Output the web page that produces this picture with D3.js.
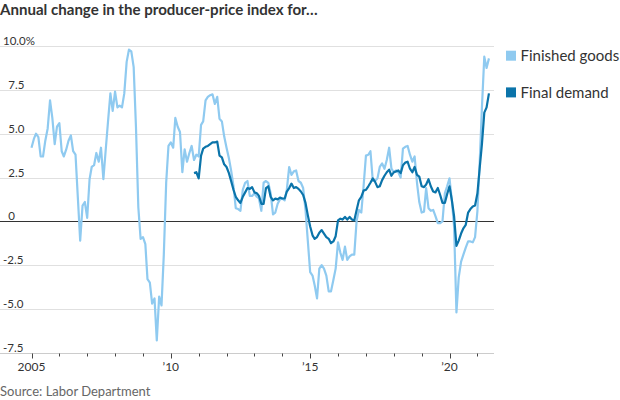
<!DOCTYPE html>
<html><head><meta charset="utf-8">
<script src="https://cdn.jsdelivr.net/npm/d3@7"></script>
<style>
html,body{margin:0;padding:0;background:#fff;}
svg{display:block;font-family:Lato,"Noto Sans",sans-serif;}
</style></head>
<body><svg id="c" width="620" height="400"></svg>
<script>
const titleText = "Annual change in the producer-price index for…";
const sourceText = "Source: Labor Department";
const seriesNames = ["Finished goods", "Final demand"];
const seriesColors = ["#8fcaf0", "#0b74aa"];
const yTicks = [-7.5, -5, -2.5, 0, 2.5, 5, 7.5, 10];
const yTickLabels = ["-7.5", "-5.0", "-2.5", "0", "2.5", "5.0", "7.5", "10.0%"];
const xTickYears = [2005, 2010, 2015, 2020];
const xTickLabels = ["2005", "’10", "’15", "’20"];
const finishedStart = [2005, 0];   // Jan 2005, monthly
const finishedGoods = [
 4.2,4.7,5.0,4.8,3.7,3.7,4.6,5.3,6.9,5.9,4.4,5.4,
 5.6,4.0,3.7,4.1,4.6,4.9,4.0,3.8,1.3,-1.1,0.9,1.1,
 0.2,2.4,3.1,3.2,3.9,3.4,4.2,2.4,4.1,5.7,7.3,6.3,
 7.4,6.5,6.6,6.5,7.3,9.1,9.8,9.7,8.8,5.4,0.8,-1.0,
 -0.9,-1.3,-3.3,-3.5,-4.7,-4.4,-6.8,-4.3,-4.8,-1.9,2.2,4.3,
 4.5,4.2,5.9,5.4,5.1,2.8,4.1,3.4,3.9,4.3,3.5,3.8,
 3.7,5.5,5.7,6.9,7.1,7.2,7.25,6.7,7.1,5.85,5.7,4.85,
 4.2,3.6,2.9,2.0,0.75,0.7,0.6,1.8,2.2,2.3,1.45,1.45,
 1.6,1.4,1.3,0.6,2.2,2.3,2.2,1.6,0.4,0.5,1.0,1.25,
 1.3,1.2,1.8,3.1,2.65,2.85,2.9,2.3,2.2,1.9,0.65,-1.1,
 -2.9,-3.1,-3.65,-4.4,-2.7,-2.5,-2.7,-3.1,-4.0,-4.0,-3.35,-2.7,
 -1.2,-1.8,-2.2,-1.45,-2.2,-2.0,-1.9,-1.9,0.05,0.65,0.5,2.0,
 3.75,3.8,4.0,2.3,2.3,2.45,3.1,3.3,3.0,3.5,4.2,3.0,
 2.8,2.9,2.8,2.5,4.15,4.25,4.3,3.8,3.4,3.7,2.2,1.1,
 0.5,0.55,1.9,0.75,0.6,0.65,0.3,-0.1,-0.1,0.0,1.6,2.0,
 2.45,1.2,-0.3,-5.2,-3.2,-2.3,-1.9,-1.5,-1.15,-1.15,-1.2,-0.9,
 0.6,3.5,6.5,9.4,8.75,9.3
];
const demandStart = [2010, 10];    // Nov 2010, monthly
const finalDemand = [
 2.75,2.8,
 2.45,3.75,4.15,4.25,4.3,4.4,4.5,4.5,4.55,3.75,3.65,3.25,
 3.1,2.75,2.3,1.8,1.4,1.2,1.05,1.4,1.65,1.9,1.85,1.95,
 1.65,1.6,1.45,1.0,1.0,1.9,2.0,1.4,1.2,1.3,1.25,1.35,
 1.3,1.3,1.7,1.9,2.15,1.9,1.95,1.85,1.7,1.5,1.05,0.35,
 -0.3,-0.8,-1.0,-0.9,-0.65,-0.5,-0.7,-0.9,-1.0,-1.25,-1.15,-0.85,
 0.05,0.15,0.1,0.25,0.1,0.25,0.1,0.05,0.65,1.2,1.4,1.75,
 1.8,2.0,2.2,2.45,2.25,1.95,2.0,2.35,2.6,2.8,2.95,2.6,
 2.8,2.85,2.9,2.75,3.2,3.35,3.4,3.0,2.8,3.1,2.65,2.55,
 2.0,1.95,2.1,2.4,2.0,1.7,1.65,1.9,1.5,1.05,1.05,1.55,
 2.0,1.2,0.3,-1.4,-1.1,-0.7,-0.4,-0.2,0.5,0.7,0.85,0.9,
 1.6,3.1,4.4,6.2,6.5,7.3
];

const toSeries = (start, vals) => vals.map((v, i) => ({date: new Date(start[0], start[1] + i, 1), value: v}));
const dataF = toSeries(finishedStart, finishedGoods);
const dataD = toSeries(demandStart, finalDemand);

const svg = d3.select("#c");
const plotLeft = 0, plotRight = 494;
const x = d3.scaleTime().domain([new Date(2005,0,1), new Date(2020,0,1)]).range([31.5, 449.5]);
const y = d3.scaleLinear().domain([-7.5, 10]).range([352.7, 46.1]);

// title
const title = svg.append("text").attr("x", 0).attr("y", 14.5)
  .attr("font-size", 14.5).attr("font-weight", "bold").attr("fill", "#333").text(titleText);
const tw = title.node().getComputedTextLength();
if (tw > 0) title.attr("font-size", 14.5 * 318 / tw);

// gridlines
const grid = svg.append("g");
grid.selectAll("line").data(yTicks).join("line")
  .attr("x1", plotLeft).attr("x2", plotRight)
  .attr("y1", d => Math.round(y(d)) + 0.5).attr("y2", d => Math.round(y(d)) + 0.5)
  .attr("stroke", d => d === 0 ? "#333" : (d === -7.5 ? "#ccc" : "#e0e0e0"))
  .attr("stroke-width", 1);

// y labels
svg.append("g").selectAll("text").data(yTicks).join("text")
  .attr("x", (d, i) => (yTickLabels[i].startsWith("-") || d >= 10) ? 3 : 8.3)
  .attr("y", d => Math.round(y(d)) - 1.5)
  .attr("font-size", 11.5).attr("fill", "#333")
  .text((d, i) => yTickLabels[i]);

// x axis ticks (yearly)
const years = d3.range(2005, 2022);
const axisY = Math.round(y(-7.5)) + 0.5;
svg.append("g").selectAll("line").data(years).join("line")
  .attr("x1", d => Math.round(x(new Date(d,0,1))) + 0.5)
  .attr("x2", d => Math.round(x(new Date(d,0,1))) + 0.5)
  .attr("y1", axisY).attr("y2", d => axisY + (xTickYears.includes(d) ? 5 : 3))
  .attr("stroke", "#444").attr("stroke-width", 1);
svg.append("g").selectAll("text").data(xTickYears).join("text")
  .attr("x", d => x(new Date(d,0,1))).attr("y", 371)
  .attr("text-anchor", "middle").attr("font-size", 12).attr("fill", "#333")
  .text((d, i) => xTickLabels[i]);

// lines
const line = d3.line().x(d => x(d.date)).y(d => y(d.value)).curve(d3.curveLinear);
svg.append("path").datum(dataF).attr("d", line).attr("fill", "none")
  .attr("stroke", seriesColors[0]).attr("stroke-width", 2.2).attr("stroke-linejoin", "round");
svg.append("path").datum(dataD).attr("d", line).attr("fill", "none")
  .attr("stroke", seriesColors[1]).attr("stroke-width", 2.2).attr("stroke-linejoin", "round");

// legend
const lg = svg.append("g").selectAll("g").data(seriesNames).join("g")
  .attr("transform", (d, i) => `translate(506,${50.7 + i * 36.7})`);
lg.append("rect").attr("width", 10).attr("height", 10).attr("fill", (d, i) => seriesColors[i]);
lg.append("text").attr("x", 14.5).attr("y", 10.5).attr("font-size", 15).attr("fill", "#333").text(d => d);

// source
svg.append("text").attr("x", 0).attr("y", 396).attr("font-size", 13).attr("fill", "#666").text(sourceText);
</script></body></html>
